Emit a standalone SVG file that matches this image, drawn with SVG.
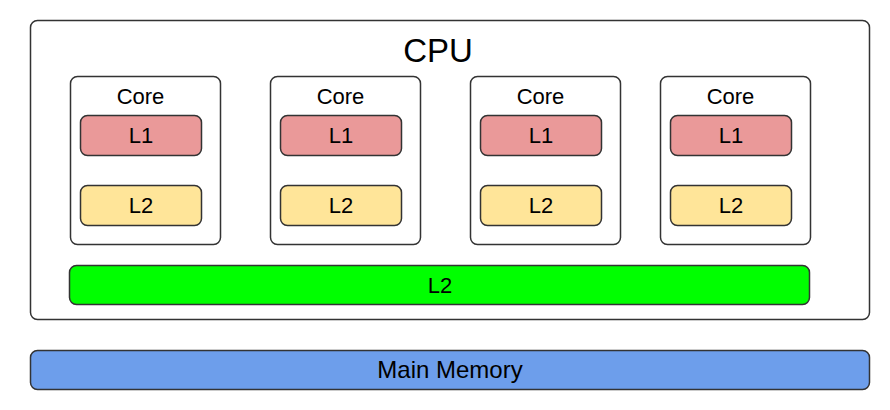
<svg xmlns="http://www.w3.org/2000/svg" width="890" height="410" viewBox="0 0 890 410">
  <style>
    .box { stroke: #333333; stroke-width: 1.5; }
    .cpu { fill: #ffffff; }
    .core { fill: #ffffff; }
    .l1 { fill: #EA9999; }
    .l2 { fill: #FFE599; }
    .l2s { fill: #00FF00; }
    .mem { fill: #6D9EEB; }
    text { font-family: "Liberation Sans", Arial, Helvetica, sans-serif; fill: #000000; text-anchor: middle; }
    .t { font-size: 22px; }
    .m { font-size: 24px; }
    .big { font-size: 33px; }
  </style>
  <rect width="890" height="410" fill="#ffffff"/>
  <g id="cpu">
    <rect class="box cpu" x="30.5" y="20.5" width="839" height="299" rx="7"/>
    <text class="big" x="438" y="62">CPU</text>
  </g>
  <g id="core1">
    <rect class="box core" x="70.5" y="76.5" width="150" height="168" rx="7"/>
    <text class="t" x="140.5" y="104">Core</text>
  </g>
  <g id="core1-l1">
    <rect class="box l1" x="80.5" y="115.5" width="121" height="40" rx="7"/>
    <text class="t" x="141" y="143">L1</text>
  </g>
  <g id="core1-l2">
    <rect class="box l2" x="80.5" y="185.5" width="121" height="40" rx="7"/>
    <text class="t" x="141" y="213">L2</text>
  </g>
  <g id="core2">
    <rect class="box core" x="270.5" y="76.5" width="150" height="168" rx="7"/>
    <text class="t" x="340.5" y="104">Core</text>
  </g>
  <g id="core2-l1">
    <rect class="box l1" x="280.5" y="115.5" width="121" height="40" rx="7"/>
    <text class="t" x="341" y="143">L1</text>
  </g>
  <g id="core2-l2">
    <rect class="box l2" x="280.5" y="185.5" width="121" height="40" rx="7"/>
    <text class="t" x="341" y="213">L2</text>
  </g>
  <g id="core3">
    <rect class="box core" x="470.5" y="76.5" width="150" height="168" rx="7"/>
    <text class="t" x="540.5" y="104">Core</text>
  </g>
  <g id="core3-l1">
    <rect class="box l1" x="480.5" y="115.5" width="121" height="40" rx="7"/>
    <text class="t" x="541" y="143">L1</text>
  </g>
  <g id="core3-l2">
    <rect class="box l2" x="480.5" y="185.5" width="121" height="40" rx="7"/>
    <text class="t" x="541" y="213">L2</text>
  </g>
  <g id="core4">
    <rect class="box core" x="660.5" y="76.5" width="150" height="168" rx="7"/>
    <text class="t" x="730.5" y="104">Core</text>
  </g>
  <g id="core4-l1">
    <rect class="box l1" x="670.5" y="115.5" width="121" height="40" rx="7"/>
    <text class="t" x="731" y="143">L1</text>
  </g>
  <g id="core4-l2">
    <rect class="box l2" x="670.5" y="185.5" width="121" height="40" rx="7"/>
    <text class="t" x="731" y="213">L2</text>
  </g>
  <g id="shared-l2">
    <rect class="box l2s" x="69.5" y="265.5" width="740" height="39" rx="7"/>
    <text class="t" x="440" y="293">L2</text>
  </g>
  <g id="main-memory">
    <rect class="box mem" x="30.5" y="350.5" width="839" height="39" rx="7"/>
    <text class="m" x="450" y="378">Main Memory</text>
  </g>
  <g id="connectors"></g>
</svg>
